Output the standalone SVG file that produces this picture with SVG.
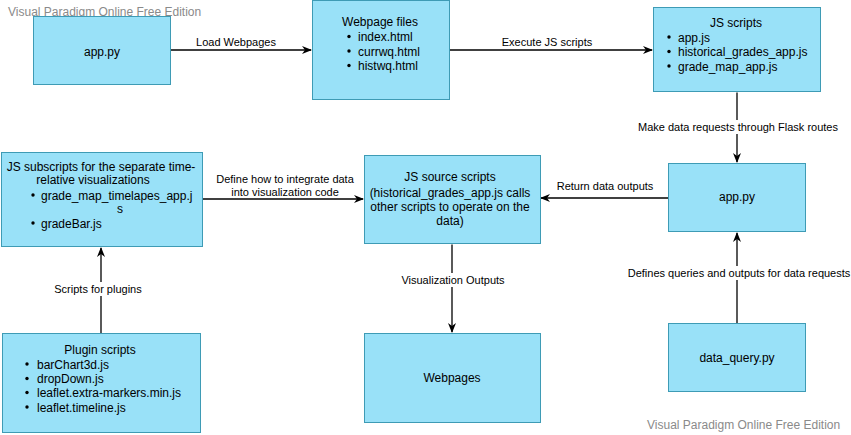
<svg xmlns="http://www.w3.org/2000/svg" width="851" height="435" viewBox="0 0 851 435">
<style>
.box{fill:#99E1F8;stroke:#3E9BB5;stroke-width:1}
.t{font-family:"Liberation Sans",Arial,sans-serif;font-size:12px;fill:#000}
.c{text-anchor:middle}
.l{font-family:"Liberation Sans",Arial,sans-serif;font-size:11px;fill:#000;text-anchor:middle}
.wm{font-family:"Liberation Sans",Arial,sans-serif;font-size:12px;fill:#8a8a8a}
.edge{stroke:#000;stroke-width:1.3;fill:none}
.bg{fill:#fff}
</style>
<defs>
<marker id="arr" viewBox="0 0 10 8" refX="9" refY="4" markerWidth="10" markerHeight="8" markerUnits="userSpaceOnUse" orient="auto">
<path d="M0,0 L10,4 L0,8 L3,4 Z" fill="#000"/>
</marker>
</defs>
<rect width="851" height="435" fill="#fff"/>
<text class="wm" x="8" y="16">Visual Paradigm Online Free Edition</text>
<text class="wm" x="647" y="429">Visual Paradigm Online Free Edition</text>

<g id="connectors">
<path class="edge" d="M170.5,50 L311,50" marker-end="url(#arr)"/>
<text class="l" x="236" y="46">Load Webpages</text>
<path class="edge" d="M449.5,50 L652,50" marker-end="url(#arr)"/>
<text class="l" x="547" y="46">Execute JS scripts</text>
<path class="edge" d="M737,92.5 L737,162" marker-end="url(#arr)"/>
<rect class="bg" x="639" y="120" width="198" height="14"/>
<text class="l" x="738" y="131">Make data requests through Flask routes</text>
<path class="edge" d="M668,198 L541,198" marker-end="url(#arr)"/>
<text class="l" x="605" y="190">Return data outputs</text>
<path class="edge" d="M202,199 L363,199" marker-end="url(#arr)"/>
<text class="l" x="285" y="183">Define how  to integrate data</text>
<text class="l" x="285" y="196">into visualization code</text>
<path class="edge" d="M101,333 L101,248" marker-end="url(#arr)"/>
<rect class="bg" x="52" y="282" width="93" height="14"/>
<text class="l" x="98" y="293">Scripts for plugins</text>
<path class="edge" d="M452,244.5 L452,332" marker-end="url(#arr)"/>
<rect class="bg" x="402" y="273" width="102" height="14"/>
<text class="l" x="453" y="284">Visualization Outputs</text>
<path class="edge" d="M737,323 L737,233" marker-end="url(#arr)"/>
<rect class="bg" x="627" y="266" width="224" height="14"/>
<text class="l" x="739" y="277">Defines queries and outputs for data requests</text>
</g>

<g id="app_py_top">
<rect class="box" x="33.5" y="16.5" width="137" height="68"/>
<text class="t c" x="102" y="56">app.py</text>
</g>

<g id="webpage_files">
<rect class="box" x="312.5" y="0.5" width="137" height="99"/>
<text class="t c" x="380" y="26">Webpage files</text>
<circle cx="349" cy="36.5" r="1.7"/><text class="t" x="358" y="41">index.html</text>
<circle cx="349" cy="51" r="1.7"/><text class="t" x="358" y="55.5">currwq.html</text>
<circle cx="349" cy="65.5" r="1.7"/><text class="t" x="358" y="70">histwq.html</text>
</g>

<g id="js_scripts">
<rect class="box" x="653.5" y="7.5" width="167" height="84"/>
<text class="t c" x="736" y="27">JS scripts</text>
<circle cx="669" cy="37" r="1.7"/><text class="t" x="678" y="41.5">app.js</text>
<circle cx="669" cy="51.5" r="1.7"/><text class="t" x="678" y="56">historical_grades_app.js</text>
<circle cx="669" cy="66" r="1.7"/><text class="t" x="678" y="70.5">grade_map_app.js</text>
</g>

<g id="app_py_right">
<rect class="box" x="668.5" y="163.5" width="137" height="68"/>
<text class="t c" x="737" y="201">app.py</text>
</g>

<g id="js_source_scripts">
<rect class="box" x="364.5" y="155.5" width="176" height="88"/>
<text class="t c" x="450" y="181">JS source scripts</text>
<text class="t c" x="450" y="197">(historical_grades_app.js calls</text>
<text class="t c" x="450" y="211">other scripts to operate on the</text>
<text class="t c" x="450" y="225">data)</text>
</g>

<g id="js_subscripts">
<rect class="box" x="1.5" y="152.5" width="201" height="94"/>
<text class="t c" x="101" y="171">JS subscripts for the separate time-</text>
<text class="t c" x="93" y="183.5">relative visualizations</text>
<circle cx="33" cy="195" r="1.7"/><text class="t" x="41" y="199.5">grade_map_timelapes_app.j</text>
<text class="t c" x="120" y="213">s</text>
<circle cx="33" cy="223" r="1.7"/><text class="t" x="41" y="227.5">gradeBar.js</text>
</g>

<g id="plugin_scripts">
<rect class="box" x="2.5" y="333.5" width="198" height="99"/>
<text class="t c" x="100" y="354">Plugin scripts</text>
<circle cx="27" cy="364" r="1.7"/><text class="t" x="37" y="368.5">barChart3d.js</text>
<circle cx="27" cy="378.5" r="1.7"/><text class="t" x="37" y="383">dropDown.js</text>
<circle cx="27" cy="392.5" r="1.7"/><text class="t" x="37" y="397">leaflet.extra-markers.min.js</text>
<circle cx="27" cy="407" r="1.7"/><text class="t" x="37" y="411.5">leaflet.timeline.js</text>
</g>

<g id="webpages">
<rect class="box" x="364.5" y="333.5" width="176" height="89"/>
<text class="t c" x="452" y="382">Webpages</text>
</g>

<g id="data_query">
<rect class="box" x="668.5" y="323.5" width="137" height="68"/>
<text class="t c" x="737" y="362">data_query.py</text>
</g>
</svg>
